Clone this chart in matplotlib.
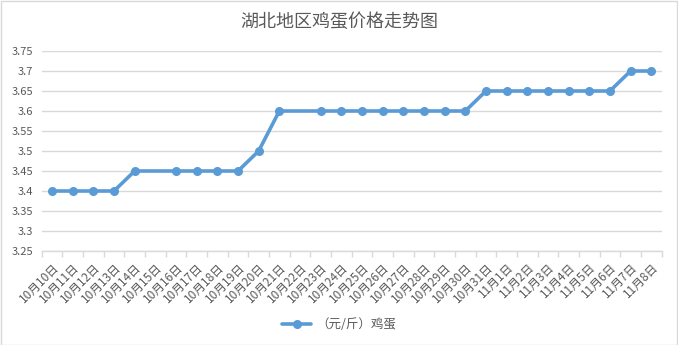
import numpy as np
import matplotlib
matplotlib.use('Agg')
import matplotlib.pyplot as plt
from matplotlib.patches import Rectangle

plt.rcParams['font.family'] = ['Noto Sans CJK SC', 'DejaVu Sans']

# dates on the category axis
dates = ['10月10日', '10月11日', '10月12日', '10月13日', '10月14日', '10月15日',
         '10月16日', '10月17日', '10月18日', '10月19日', '10月20日', '10月21日',
         '10月22日', '10月23日', '10月24日', '10月25日', '10月26日', '10月27日',
         '10月28日', '10月29日', '10月30日', '10月31日', '11月1日', '11月2日',
         '11月3日', '11月4日', '11月5日', '11月6日', '11月7日', '11月8日']
# egg price (yuan / jin), None = no data that day
prices = [3.40, 3.40, 3.40, 3.40, 3.45, None,
          3.45, 3.45, 3.45, 3.45, 3.50, 3.60,
          None, 3.60, 3.60, 3.60, 3.60, 3.60,
          3.60, 3.60, 3.60, 3.65, 3.65, 3.65,
          3.65, 3.65, 3.65, 3.65, 3.70, 3.70]
yticks = [3.25, 3.3, 3.35, 3.4, 3.45, 3.5, 3.55, 3.6, 3.65, 3.7, 3.75]
ytick_labels = ['3.25', '3.3', '3.35', '3.4', '3.45', '3.5', '3.55', '3.6', '3.65', '3.7', '3.75']

txt = '#595959'
grid_c = '#D9D9D9'
blue = '#5B9BD5'

fig = plt.figure(figsize=(6.78, 3.45), dpi=100)
ax = fig.add_axes([41.7 / 678, 1 - 251 / 345, (661.6 - 41.7) / 678, 200 / 345])

# skip empty days but keep the line connected
xs = [i for i, p in enumerate(prices) if p is not None]
ys = [p for p in prices if p is not None]
ax.plot(xs, ys, color=blue, lw=2.6, marker='o', ms=5.5, label='（元/斤）鸡蛋',
        solid_capstyle='round', zorder=3, clip_on=False)

ax.set_xlim(-0.5, len(dates) - 0.5)
ax.set_ylim(3.25, 3.75)
ax.set_yticks(yticks)
ax.set_yticklabels(ytick_labels)
ax.yaxis.grid(True, color=grid_c, lw=1)
ax.set_axisbelow(True)

for s in ['top', 'right', 'left']:
    ax.spines[s].set_visible(False)
ax.spines['bottom'].set_color(grid_c)
ax.spines['bottom'].set_linewidth(1)

# category ticks between the labels
ax.set_xticks(np.arange(-0.5, len(dates), 1.0), minor=True)
ax.set_xticks(np.arange(len(dates)))
ax.set_xticklabels(dates, rotation=45, ha='right', rotation_mode='anchor')
ax.tick_params(axis='x', which='major', length=0, pad=7, labelsize=8.5, labelcolor=txt)
ax.tick_params(axis='x', which='minor', length=4, color=grid_c, width=1)
ax.tick_params(axis='y', length=0, pad=6, labelsize=8, labelcolor=txt)

fig.text(0.5, 1 - 22 / 345, '湖北地区鸡蛋价格走势图', ha='center', va='center',
         fontsize=13, color=txt)

fig.legend(loc='center', bbox_to_anchor=(0.5, 1 - 325 / 345), frameon=False,
           fontsize=9, labelcolor=txt, handlelength=2.3, handletextpad=0.4)

fig.patches.append(Rectangle((0.5 / 678, 0.5 / 345), 1 - 1.5 / 678, 1 - 1.5 / 345,
                             transform=fig.transFigure, fill=False, edgecolor='#D9D9D9', lw=1))

fig.savefig('out.png', dpi=100, facecolor='white')
